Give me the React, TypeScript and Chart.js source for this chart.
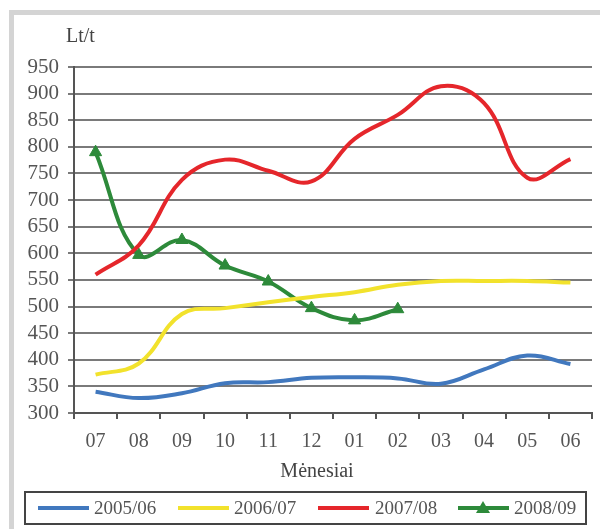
import React, { useEffect, useRef } from "react";
import { Chart, registerables } from "chart.js";

Chart.register(...registerables);

const months = ["07", "08", "09", "10", "11", "12", "01", "02", "03", "04", "05", "06"];
const s2005 = [340, 328, 337, 356, 358, 366, 367, 365, 355, 382, 408, 392];
const s2006 = [372, 393, 486, 497, 508, 518, 527, 541, 548, 548, 548, 545];
const s2007 = [560, 615, 738, 776, 755, 735, 815, 860, 914, 882, 742, 777];
const s2008 = [790, 597, 625, 577, 547, 497, 474, 495];
const seriesNames = ["2005/06", "2006/07", "2007/08", "2008/09"];
const colors = ["#4178be", "#f2e22c", "#e5262b", "#2d8a3a"];

const FONT = "'Liberation Serif', 'Times New Roman', serif";

const overlay = {
  id: "overlay",
  afterDraw(chart: any) {
    const ctx = chart.ctx;
    ctx.save();
    ctx.fillStyle = "#444";
    ctx.textBaseline = "middle";
    ctx.font = `20px ${FONT}`;
    ctx.textAlign = "left";
    ctx.fillText("Lt/t", 66, 37);
    ctx.textAlign = "center";
    ctx.fillText("Mėnesiai", 317, 472);

    // legend box
    ctx.strokeStyle = "#444";
    ctx.lineWidth = 2;
    ctx.strokeRect(25, 492, 561, 32);
    const lineX = [38, 178, 318, 458];
    const textX = [94, 234, 375, 514];
    const ly = 508;
    ctx.font = `19px ${FONT}`;
    ctx.textAlign = "left";
    for (let i = 0; i < 4; i++) {
      ctx.strokeStyle = colors[i];
      ctx.lineWidth = 4;
      ctx.beginPath();
      ctx.moveTo(lineX[i], ly);
      ctx.lineTo(lineX[i] + 51, ly);
      ctx.stroke();
      if (i === 3) {
        const cx = lineX[i] + 25;
        ctx.fillStyle = colors[i];
        ctx.beginPath();
        ctx.moveTo(cx, ly - 7);
        ctx.lineTo(cx + 7, ly + 5);
        ctx.lineTo(cx - 7, ly + 5);
        ctx.closePath();
        ctx.fill();
      }
      ctx.fillStyle = "#555";
      ctx.fillText(seriesNames[i], textX[i], ly + 1);
    }
    ctx.restore();
  },
};

export default function App() {
  const ref = useRef<HTMLCanvasElement | null>(null);
  useEffect(() => {
    if (!ref.current) return;
    const seriesData = [s2005, s2006, s2007, s2008];
    const chart = new Chart(ref.current, {
      type: "line",
      data: {
        labels: months,
        datasets: seriesData.map((d, i) => ({
          label: seriesNames[i],
          data: d,
          borderColor: colors[i],
          backgroundColor: colors[i],
          borderWidth: 4,
          tension: 0.4,
          pointRadius: i === 3 ? 7 : 0,
          pointStyle: "triangle",
          pointBackgroundColor: colors[i],
          pointBorderColor: colors[i],
          pointBorderWidth: 1,
          fill: false,
        })),
      },
      options: {
        responsive: false,
        animation: false,
        events: [],
        layout: { padding: { top: 67, right: 0, left: 0, bottom: 0 } },
        plugins: { legend: { display: false }, tooltip: { enabled: false }, title: { display: false } },
        scales: {
          x: {
            type: "category",
            offset: true,
            afterFit: (s: any) => {
              s.height = 116;
            },
            grid: {
              display: true,
              drawOnChartArea: false,
              drawTicks: true,
              tickLength: 6,
              color: "#555",
              lineWidth: 2,
              offset: true,
            },
            border: { display: true, color: "#555", width: 2 },
            ticks: { font: { family: FONT, size: 20 }, color: "#555", padding: 11, maxRotation: 0, autoSkip: false },
          },
          y: {
            min: 300,
            max: 950,
            afterFit: (s: any) => {
              s.width = 74;
            },
            ticks: { stepSize: 50, autoSkip: false, font: { family: FONT, size: 21 }, color: "#555", padding: 9 },
            grid: { color: "#7a7a7a", lineWidth: 2, tickLength: 6 },
            border: { display: true, color: "#555", width: 2 },
          },
        },
      },
      plugins: [overlay],
    });
    return () => chart.destroy();
  }, []);

  return (
    <div style={{ position: "fixed", left: 0, top: 0, width: 600, height: 529, overflow: "hidden", background: "#fff" }}>
      <div
        style={{
          position: "absolute",
          left: 9,
          top: 10,
          width: 600,
          height: 600,
          border: "5px solid #d4d4d4",
          boxSizing: "border-box",
        }}
      />
      <canvas ref={ref} width={600} height={529} style={{ position: "absolute", left: 0, top: 0 }} />
    </div>
  );
}
